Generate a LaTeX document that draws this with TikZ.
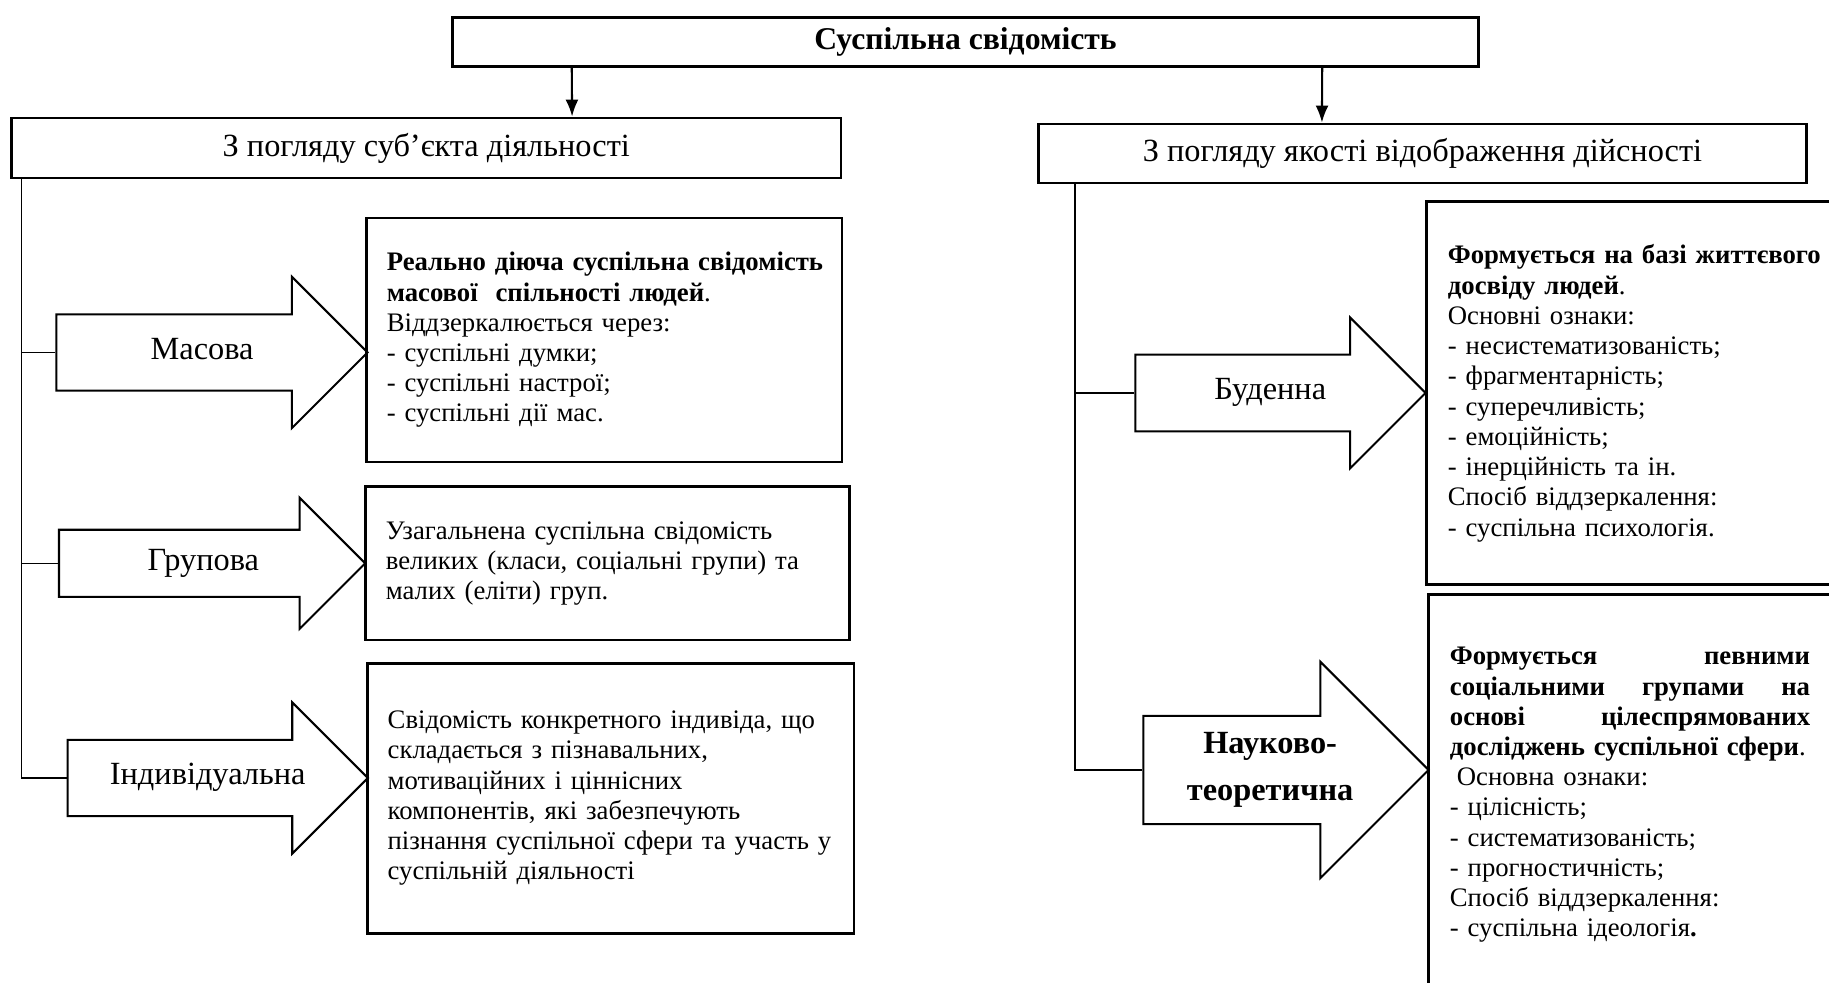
\documentclass[tikz,border=0pt]{standalone}
\usepackage{fontspec}
\setmainfont{Liberation Serif}
\usepackage{tikz}
\usetikzlibrary{shapes.arrows,arrows.meta,calc,positioning}

\newcommand{\bodyfont}{\fontsize{7.6}{8.6}\selectfont}
\newcommand{\headfont}{\fontsize{9.2}{11}\selectfont}

\begin{document}
\begin{tikzpicture}[x=0.01cm, y=-0.01cm,
   titlebox/.style={draw, line width=0.8pt, inner ysep=0pt, font=\headfont},
   infobox/.style={draw, line width=0.8pt, align=left, inner xsep=2mm, inner ysep=0pt, font=\bodyfont},
   blockarr/.style={single arrow, draw, line width=0.6pt, single arrow tip angle=90, anchor=tip,
                    inner xsep=0pt, font=\headfont, text height=2.1mm, text depth=0.7mm},
   link/.style={line width=0.4pt}]
   \useasboundingbox (0,0) rectangle (1829,983);
   \clip (0,0) rectangle (1829,983);

   % headings
   \node[titlebox, minimum width=10.25cm, minimum height=0.49cm, font=\fontsize{9}{11}\selectfont\bfseries] (sv) at (965.5,42) {Суспільна свідомість};
   \node[titlebox, minimum width=8.29cm, minimum height=0.6cm] (subj) at (426.3,148) {З погляду суб’єкта діяльності};
   \node[titlebox, minimum width=7.67cm, minimum height=0.59cm] (qual) at (1422.5,153.5) {З погляду якості відображення дійсності};

   \begin{scope}[-{Latex[length=1.7mm,width=1.3mm]}, line width=0.6pt]
    \draw ([xshift=-3.935cm]sv.south) -- ([xshift=1.457cm]subj.north);
    \draw ([xshift=3.565cm]sv.south) -- ([xshift=-1.005cm]qual.north);
   \end{scope}

   % left branch
   \begin{scope}[every node/.style={blockarr}]
    \node[minimum height=3.11cm, single arrow head extend=3.75mm, inner ysep=2.3mm] (mas) at (369,352.5) {\hspace*{1.85mm}Масова};
    \node[minimum height=3.06cm, single arrow head extend=3.2mm, inner ysep=1.85mm] (grp) at (366.7,563.3) {\hspace*{1.6mm}Групова};
    \node[minimum height=3.0cm, single arrow head extend=3.75mm, inner ysep=2.3mm] (ind) at (369.3,778) {\hspace*{1.8mm}Індивідуальна};
   \end{scope}

   \begin{scope}[every node/.style={infobox}]
    \node[text width=4.35cm, minimum height=2.44cm] (mbox) at (604.4,340)
     {\textbf{Реально~діюча~суспільна~свідомість}\\
      \textbf{масової\ \ спільності людей}.\\
      Віддзеркалюється через:\\
      - суспільні думки;\\
      - суспільні настрої;\\
      - суспільні дії мас.};
    \node[text width=4.43cm, minimum height=1.53cm] (gbox) at (607.5,563.4)
     {Узагальнена суспільна свідомість\\
      великих (класи, соціальні групи) та\\
      малих (еліти) груп.};
    \node[text width=4.46cm, minimum height=2.7cm] (ibox) at (610.8,798.3)
     {Свідомість конкретного індивіда, що\\
      складається з пізнавальних,\\
      мотиваційних і ціннісних\\
      компонентів, які забезпечують\\
      пізнання суспільної сфери та участь у\\
      суспільній діяльності};
   \end{scope}

   \coordinate (lv) at ([xshift=0.116cm]subj.south west);
   \draw[link] (lv) |- (ind.tail);
   \draw[link] (mas.tail) -- (mas.tail -| lv);
   \draw[link] (grp.tail) -- (grp.tail -| lv);

   % right branch
   \begin{scope}[every node/.style={blockarr}]
    \node[minimum height=2.9cm, single arrow head extend=3.7mm, inner ysep=2.33mm] (bud) at (1427,393) {\hspace*{1.8mm}Буденна};
    \node[minimum height=2.85cm, single arrow head extend=5.4mm, inner ysep=1.55mm, text height=6.8mm, text depth=0.7mm, align=center,
          font=\fontsize{9.2}{13.3}\selectfont\bfseries] (nauk) at (1430,770) {\hspace*{2.25mm}Науково-\\\hspace*{2.25mm}теоретична};
   \end{scope}

   \begin{scope}[every node/.style={infobox, inner xsep=2.1mm}]
    \node[text width=3.7cm, minimum height=3.83cm] (bbox) at (1633,393.3)
     {\textbf{Формується~на~базі~життєвого}\\
      \textbf{досвіду людей}.\\
      Основні ознаки:\\
      - несистематизованість;\\
      - фрагментарність;\\
      - суперечливість;\\
      - емоційність;\\
      - інерційність та ін.\\
      Спосіб віддзеркалення:\\
      - суспільна психологія.};
    \node[text width=3.6cm, minimum height=4.0cm] (nbox) at (1630,795)
     {\textbf{Формується \hfill певними}\\
      \textbf{соціальними \hfill групами \hfill на}\\
      \textbf{основі \hfill цілеспрямованих}\\
      \textbf{досліджень суспільної сфери}.\\
      \hspace*{0.7mm}Основна ознаки:\\
      - цілісність;\\
      - систематизованість;\\
      - прогностичність;\\
      Спосіб віддзеркалення:\\
      - суспільна ідеологія\textbf{.}};
   \end{scope}

   \coordinate (rv) at ([xshift=0.375cm]qual.south west);
   \draw[link] (rv) |- (nauk.tail);
   \draw[link] (bud.tail) -- (bud.tail -| rv);
\end{tikzpicture}
\end{document}
